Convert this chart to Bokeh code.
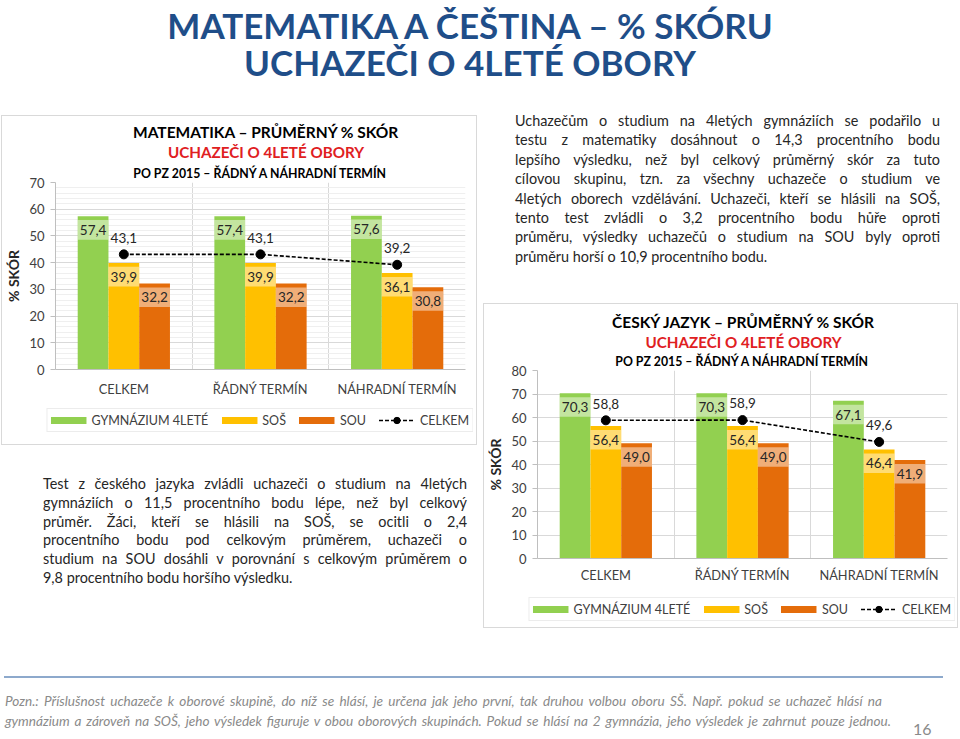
from bokeh.plotting import figure
from bokeh.models import (ColumnDataSource, Div, Spacer, Legend, LegendItem,
                          FixedTicker, Range1d)
from bokeh.layouts import column, row
from bokeh.transform import dodge
from bokeh.core.properties import value
from bokeh.embed import file_html
from bokeh.resources import INLINE

# ---------------- data ----------------
categories = ["CELKEM", "ŘÁDNÝ TERMÍN", "NÁHRADNÍ TERMÍN"]
series_names = ["GYMNÁZIUM 4LETÉ", "SOŠ", "SOU"]
total_name = "CELKEM"

math_gymnazium = [57.4, 57.4, 57.6]
math_sos = [39.9, 39.9, 36.1]
math_sou = [32.2, 32.2, 30.8]
math_celkem = [43.1, 43.1, 39.2]
math_ticks = [0, 10, 20, 30, 40, 50, 60, 70]

cj_gymnazium = [70.3, 70.3, 67.1]
cj_sos = [56.4, 56.4, 46.4]
cj_sou = [49.0, 49.0, 41.9]
cj_celkem = [58.8, 58.9, 49.6]
cj_ticks = [0, 10, 20, 30, 40, 50, 60, 70, 80]

page_title = ["MATEMATIKA A ČEŠTINA – % SKÓRU", "UCHAZEČI O 4LETÉ OBORY"]
math_titles = ["MATEMATIKA – PRŮMĚRNÝ % SKÓR", "UCHAZEČI O 4LETÉ OBORY",
               "PO PZ 2015 – ŘÁDNÝ A NÁHRADNÍ TERMÍN"]
cj_titles = ["ČESKÝ JAZYK – PRŮMĚRNÝ % SKÓR", "UCHAZEČI O 4LETÉ OBORY",
             "PO PZ 2015 – ŘÁDNÝ A NÁHRADNÍ TERMÍN"]
y_label = "% SKÓR"

para_math = [
    "Uchazečům o studium na 4letých gymnáziích se podařilo u",
    "testu z matematiky dosáhnout o 14,3 procentního bodu",
    "lepšího výsledku, než byl celkový průměrný skór za tuto",
    "cílovou skupinu, tzn. za všechny uchazeče o studium ve",
    "4letých oborech vzdělávání. Uchazeči, kteří se hlásili na SOŠ,",
    "tento test zvládli o 3,2 procentního bodu hůře oproti",
    "průměru, výsledky uchazečů o studium na SOU byly oproti",
    "průměru horší o 10,9 procentního bodu.",
]
para_cj = [
    "Test z českého jazyka zvládli uchazeči o studium na 4letých",
    "gymnáziích o 11,5 procentního bodu lépe, než byl celkový",
    "průměr. Žáci, kteří se hlásili na SOŠ, se ocitli o 2,4",
    "procentního bodu pod celkovým průměrem, uchazeči o",
    "studium na SOU dosáhli v porovnání s celkovým průměrem o",
    "9,8 procentního bodu horšího výsledku.",
]
footnote = [
    "Pozn.: Příslušnost uchazeče k oborové skupině, do níž se hlásí, je určena jak jeho první, tak druhou volbou oboru SŠ. Např. pokud se uchazeč hlásí na",
    "gymnázium a zároveň na SOŠ, jeho výsledek figuruje v obou oborových skupinách. Pokud se hlásí na 2 gymnázia, jeho výsledek je zahrnut pouze jednou.",
]
page_number = "16"

# ---------------- styling ----------------
FONT = "Lato"
C_GYM, C_SOS, C_SOU = "#92D050", "#FFC000", "#E46C0A"
TEXT = "#262626"
AXIS_TXT = "#404040"
GRID = "#D9D9D9"
RED = "#E0201F"
TITLE_BLUE = "#1F4E89"


def fmt(vals):
    return [f"{v:.1f}".replace(".", ",") for v in vals]


def chart_box(titles, gym, sos, sou, tot, ticks, g):
    """g: geometry dict (pixels)."""
    n = len(categories)
    ymax = ticks[-1]
    inner_w = g["w"]
    # ---- titles 1+2 (HTML) ----
    t_html = f'<div style="position:relative;width:{inner_w}px;height:{g["title_h"]}px;">'
    for txt, size, color, (cy, cx) in zip(titles[:2], (15.5, 15.2), ("black", RED), g["tpos"]):
        t_html += (f'<div style="position:absolute;left:{cx - 200}px;top:{cy - 10}px;width:400px;'
                   f'text-align:center;line-height:20px;font-family:{FONT};font-weight:bold;'
                   f'font-size:{size}px;color:{color};white-space:nowrap;">{txt}</div>')
    t_html += "</div>"
    tdiv = Div(text=t_html, width=inner_w, height=g["title_h"], margin=0)

    # ---- main chart ----
    frame_h = g["frame_h"]
    upp = ymax / frame_h
    xs = [i + 0.5 for i in range(n)]
    data = dict(x=xs, tot=tot, tot_l=fmt(tot), tot_ly=[v + 17 * upp for v in tot])
    for key, vals in (("gym", gym), ("sos", sos), ("sou", sou)):
        data[key] = vals
        data[key + "_l"] = fmt(vals)
        data[key + "_bt"] = [v - 4 * upp for v in vals]     # label band top
        data[key + "_bb"] = [v - 24 * upp for v in vals]    # label band bottom
        data[key + "_ly"] = [v - 14 * upp for v in vals]    # label centre
    src = ColumnDataSource(data)

    H = g["bt"] + frame_h + g["bb"]
    p = figure(width=inner_w, height=H, x_range=Range1d(0, n), y_range=Range1d(0, ymax),
               output_backend="svg", toolbar_location=None, margin=0,
               min_border_left=g["bl"], min_border_right=g["br"],
               min_border_top=g["bt"], min_border_bottom=g["bb"])
    p.outline_line_color = None
    p.background_fill_color = "white"
    p.border_fill_color = "white"
    p.title.text = titles[2]
    p.title.align = "center"
    p.title.text_font = FONT
    p.title.text_font_style = "bold"
    p.title.text_font_size = "12.3px"
    p.title.text_color = "black"
    p.title.standoff = 3
    p.title.offset = g["t3dx"]

    bw = 0.225
    for key, col, off in (("gym", C_GYM, -bw), ("sos", C_SOS, 0.0), ("sou", C_SOU, bw)):
        xd = dodge("x", off, range=p.x_range)
        p.vbar(x=xd, top=key, width=bw, source=src, fill_color=col, line_color=None)
        p.vbar(x=xd, top=key + "_bt", bottom=key + "_bb", width=bw, source=src,
               fill_color="white", fill_alpha=0.45, line_color=None)
        p.text(x=xd, y=key + "_ly", text=key + "_l", source=src,
               text_align="center", text_baseline="middle",
               text_font=value(FONT), text_font_size="13.5px", text_color=TEXT)

    p.line(x="x", y="tot", source=src, line_color="black", line_width=1.6, line_dash="4 2")
    p.scatter(x="x", y="tot", source=src, size=9, fill_color="black", line_color="black")
    p.text(x="x", y="tot_ly", text="tot_l", source=src, text_align="center",
           text_baseline="middle", text_font=value(FONT), text_font_size="13.5px",
           text_color=TEXT)

    minor = [v for v in range(0, ymax + 1, 2) if v % 10] if g["minor"] else []
    p.yaxis.ticker = FixedTicker(ticks=ticks, minor_ticks=minor)
    p.yaxis.axis_label = y_label
    p.yaxis.axis_label_text_font = FONT
    p.yaxis.axis_label_text_font_style = "bold"
    p.yaxis.axis_label_text_font_size = "14px"
    p.yaxis.axis_label_text_color = TEXT
    p.yaxis.axis_label_standoff = g["ylab_standoff"]
    p.yaxis.major_label_text_font = FONT
    p.yaxis.major_label_text_font_size = "13px"
    p.yaxis.major_label_text_color = AXIS_TXT
    p.yaxis.major_label_standoff = 6
    p.yaxis.axis_line_color = "#BFBFBF"
    p.yaxis.major_tick_line_color = "#BFBFBF"
    p.yaxis.major_tick_out = 5
    p.yaxis.major_tick_in = 0
    p.yaxis.minor_tick_line_color = None

    p.xaxis.ticker = FixedTicker(ticks=xs)
    p.xaxis.major_label_overrides = {x: c for x, c in zip(xs, categories)}
    p.xaxis.major_label_text_font = FONT
    p.xaxis.major_label_text_font_size = "12.8px"
    p.xaxis.major_label_text_color = AXIS_TXT
    p.xaxis.major_label_standoff = g["xlab_standoff"]
    p.xaxis.major_tick_line_color = None
    p.xaxis.major_tick_out = 0
    p.xaxis.major_tick_in = 0
    p.xaxis.minor_tick_line_color = None
    p.xaxis.axis_line_color = "#BFBFBF"

    p.ygrid.grid_line_color = GRID
    if g["minor"]:
        p.ygrid.minor_grid_line_color = "#EFEFEF"
    p.xgrid.ticker = FixedTicker(ticks=list(range(1, n + 1)))
    p.xgrid.grid_line_color = GRID

    # ---- legend strip (own small figure; its renderers only feed the legend) ----
    lf = figure(width=g["leg_w"], height=g["leg_h"], output_backend="svg",
                toolbar_location=None, margin=0, min_border=0,
                x_axis_location=None, y_axis_location=None)
    lf.outline_line_color = None
    lf.background_fill_color = "white"
    lf.border_fill_color = "white"
    lf.xgrid.visible = False
    lf.ygrid.visible = False
    items = []
    for name, key, col in zip(series_names, ("gym", "sos", "sou"), (C_GYM, C_SOS, C_SOU)):
        sw = lf.line(x="x", y=key, source=src, line_color=col, line_width=7,
                     line_cap="butt", visible=False)
        items.append(LegendItem(label=name, renderers=[sw]))
    l_ln = lf.line(x="x", y="tot", source=src, line_color="black", line_width=1.6,
                   line_dash="4 2", visible=False)
    l_sc = lf.scatter(x="x", y="tot", source=src, size=9, fill_color="black",
                      line_color="black", visible=False)
    items.append(LegendItem(label=total_name, renderers=[l_ln, l_sc]))
    legend = Legend(items=items, orientation="horizontal", location="bottom_right",
                    border_line_color=GRID, background_fill_color="white",
                    label_text_font=FONT, label_text_font_size="12.5px",
                    label_text_color=AXIS_TXT, glyph_width=36, glyph_height=16,
                    label_height=16, spacing=13, label_standoff=5, padding=3,
                    margin=0, click_policy="none")
    lf.add_layout(legend)

    leg_row = row(Spacer(width=g["leg_dx"], height=10, margin=0), lf, margin=0)
    return column(tdiv, p, leg_row, Spacer(width=10, height=g["leg_gap"], margin=0),
                  margin=0, styles={"border": f"1px solid {GRID}"})


math_geom = dict(w=474, title_h=46, tpos=((15.7, 263.7), (36.3, 264)), t3dx=4,
                 frame_h=191, bt=20, bb=26, bl=50, br=11, minor=True,
                 xlab_standoff=11, ylab_standoff=4, leg_w=465, leg_h=33, leg_gap=12,
                 leg_dx=6)
cj_geom = dict(w=473, title_h=46, tpos=((17.7, 259), (38, 259.5)), t3dx=3,
               frame_h=192, bt=20, bb=23, bl=49, br=10, minor=False,
               xlab_standoff=8, ylab_standoff=4, leg_w=465, leg_h=36, leg_gap=6,
               leg_dx=6)

math_box = chart_box(math_titles, math_gymnazium, math_sos, math_sou, math_celkem,
                     math_ticks, math_geom)
cj_box = chart_box(cj_titles, cj_gymnazium, cj_sos, cj_sou, cj_celkem, cj_ticks, cj_geom)


def para_html(lines, left, top, width, height, box_w, fs, lh, color):
    parts = []
    for i, ln_ in enumerate(lines):
        last = i == len(lines) - 1
        parts.append(f'<div style="white-space:nowrap;text-align:justify;'
                     f'text-align-last:{"left" if last else "justify"};">{ln_}</div>')
    return (f'<div style="position:relative;width:{box_w}px;height:{height}px;">'
            f'<div style="position:absolute;left:{left}px;top:{top}px;width:{width}px;'
            f'font-family:{FONT};font-size:{fs}px;line-height:{lh}px;color:{color};">'
            + "".join(parts) + "</div></div>")


title_div = Div(text=(
    '<div style="position:relative;width:960px;height:105px;">'
    f'<div style="position:absolute;left:0;top:7px;width:940px;text-align:center;'
    f'font-family:{FONT};font-weight:bold;font-size:35px;line-height:37px;'
    f'color:{TITLE_BLUE};white-space:nowrap;">{page_title[0]}<br>{page_title[1]}</div></div>'),
    width=960, height=105, margin=0)

para1_div = Div(text=para_html(para_math, 35, 6, 425, 198, 480, 14.4, 19.4, TEXT),
                width=480, height=198, margin=0)
para2_div = Div(text=para_html(para_cj, 43, 30, 424, 225, 480, 14.4, 18.8, TEXT),
                width=480, height=225, margin=0)

foot_lines = "".join(
    f'<div style="position:absolute;left:5px;top:{c - 670 - 8}px;width:{r - 5}px;'
    f'text-align:justify;text-align-last:justify;font-family:{FONT};font-style:italic;'
    f'font-size:13.6px;line-height:16px;color:#8A8A8A;white-space:nowrap;">{t}</div>'
    for t, c, r in ((footnote[0], 701, 882), (footnote[1], 721, 891)))
footer_div = Div(text=(
    '<div style="position:relative;width:960px;height:69px;">'
    '<div style="position:absolute;left:4px;top:6px;width:939px;height:2px;background:#8DA9CC;"></div>'
    + foot_lines +
    f'<div style="position:absolute;left:913px;top:52px;font-family:{FONT};'
    f'font-size:16px;line-height:14px;color:#8A8A8A;">{page_number}</div></div>'),
    width=960, height=69, margin=0)

left_col = column(
    Spacer(width=480, height=10, margin=0),
    row(Spacer(width=1, height=10, margin=0), math_box, margin=0),
    para2_div, margin=0)
right_col = column(
    para1_div,
    row(Spacer(width=3, height=10, margin=0), cj_box, margin=0),
    margin=0)
layout = column(title_div, row(left_col, right_col, margin=0), footer_div, margin=0)

open("out.html", "w").write(file_html(layout, INLINE))
